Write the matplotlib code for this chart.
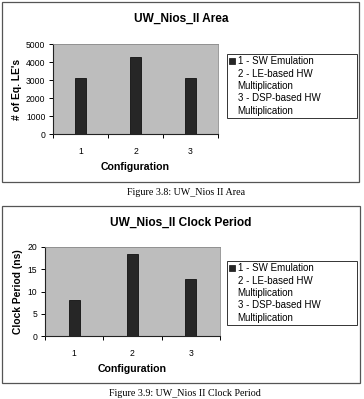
'''
Two stacked Excel-style bar charts for the UW_Nios_II report
1) Area in equivalent LEs per configuration
2) Clock period per configuration
'''

import matplotlib
matplotlib.use('Agg')
import matplotlib.pyplot as plt
from matplotlib.patches import Rectangle


configs = ['1', '2', '3']
area_les = [3090, 4280, 3110]
clock_ns = [8.0, 18.5, 12.8]
area_ticks = [0, 1000, 2000, 3000, 4000, 5000]
clock_ticks = [0, 5, 10, 15, 20]
legend_lines = ['1 - SW Emulation', '2 - LE-based HW', 'Multiplication',
                '3 - DSP-based HW', 'Multiplication']

W, H = 364, 399
SANS = ['Liberation Sans', 'DejaVu Sans']
SERIF = ['Liberation Serif', 'DejaVu Serif']
BAR_COLOR = '#262626'
PLOT_BG = '#bdbdbd'


def px_box(left, top, right, bottom):
    # pixel box -> figure fraction [x, y, w, h]
    return [left / W, 1 - bottom / H, (right - left) / W, (bottom - top) / H]


def bar_panel(fig, box, frame, values, yticks, ylabel, title, ylab_x, title_y, legend_top):
    ax = fig.add_axes(px_box(*box))
    x = list(range(1, len(values) + 1))
    ax.bar(x, values, width=0.19, color=BAR_COLOR, edgecolor='#111111', linewidth=0.6, zorder=3)
    ax.set_facecolor(PLOT_BG)
    ax.set_xlim(0.5, len(values) + 0.5)
    ax.set_ylim(yticks[0], yticks[-1])

    # ticks: labels at category centres, marks at category boundaries
    ax.set_xticks(x)
    ax.set_xticklabels(configs, fontsize=6.2, family=SANS)
    ax.tick_params(axis='x', which='major', length=0, pad=9)
    ax.set_xticks([i + 0.5 for i in range(len(values) + 1)], minor=True)
    ax.tick_params(axis='x', which='minor', length=3, direction='out', width=0.7)
    ax.set_yticks(yticks)
    ax.set_yticklabels([str(t) for t in yticks], fontsize=6.2, family=SANS)
    ax.tick_params(axis='y', length=3, direction='out', width=0.7, pad=2.5)

    for side in ['top', 'right']:
        ax.spines[side].set_color('#8a8a8a')
        ax.spines[side].set_linewidth(0.6)
    for side in ['left', 'bottom']:
        ax.spines[side].set_color('#222222')
        ax.spines[side].set_linewidth(0.8)

    ax.set_xlabel('Configuration', fontsize=7.6, fontweight='bold', family=SANS, labelpad=5)
    ax.set_ylabel(ylabel, fontsize=7.4, fontweight='bold', family=SANS)
    ax.yaxis.set_label_coords(ylab_x, 0.5)

    # chart title and outer frame
    fig.text(181 / W, 1 - title_y / H, title, ha='center', va='center',
             fontsize=8.6, fontweight='bold', family=SANS)
    l, t, r, b = frame
    fig.add_artist(Rectangle((l / W, 1 - b / H), (r - l) / W, (b - t) / H,
                             transform=fig.transFigure, fill=False,
                             edgecolor='#555555', linewidth=0.9))

    # legend: only the first line carries the series marker
    handles = [Rectangle((0, 0), 1, 1, facecolor=BAR_COLOR, edgecolor='#111111', linewidth=0.5)]
    handles += [Rectangle((0, 0), 1, 1, alpha=0) for _ in legend_lines[1:]]
    lx, ly, lw, lh = px_box(227, legend_top, 357, legend_top + 64)
    leg = fig.legend(handles, legend_lines, loc='upper left',
                     bbox_to_anchor=(lx, ly, lw, lh), mode='expand', borderaxespad=0,
                     prop={'family': SANS, 'size': 7}, handlelength=0.6, handleheight=0.7,
                     handletextpad=0.25, labelspacing=0.24, borderpad=0.25,
                     fancybox=False, framealpha=1)
    leg.get_frame().set_edgecolor('#333333')
    leg.get_frame().set_linewidth(0.7)
    return ax


def main():
    fig = plt.figure(figsize=(W / 100, H / 100), dpi=100)

    bar_panel(fig, (53, 44, 218, 134), (2, 2, 359, 182), area_les, area_ticks,
              "# of Eq. LE's", 'UW_Nios_II Area', -0.19, 19, 54)
    fig.text(186 / W, 1 - 193 / H, 'Figure 3.8: UW_Nios II Area', ha='center', va='center',
             fontsize=7.2, family=SERIF)

    bar_panel(fig, (45, 247, 220, 336), (2, 206, 360, 383), clock_ns, clock_ticks,
              'Clock Period (ns)', 'UW_Nios_II Clock Period', -0.125, 223, 261)
    fig.text(185 / W, 1 - 393 / H, 'Figure 3.9: UW_Nios II Clock Period', ha='center',
             va='center', fontsize=7.2, family=SERIF)

    fig.savefig('out.png', dpi=100)
    plt.close(fig)


if __name__ == '__main__':
    main()
